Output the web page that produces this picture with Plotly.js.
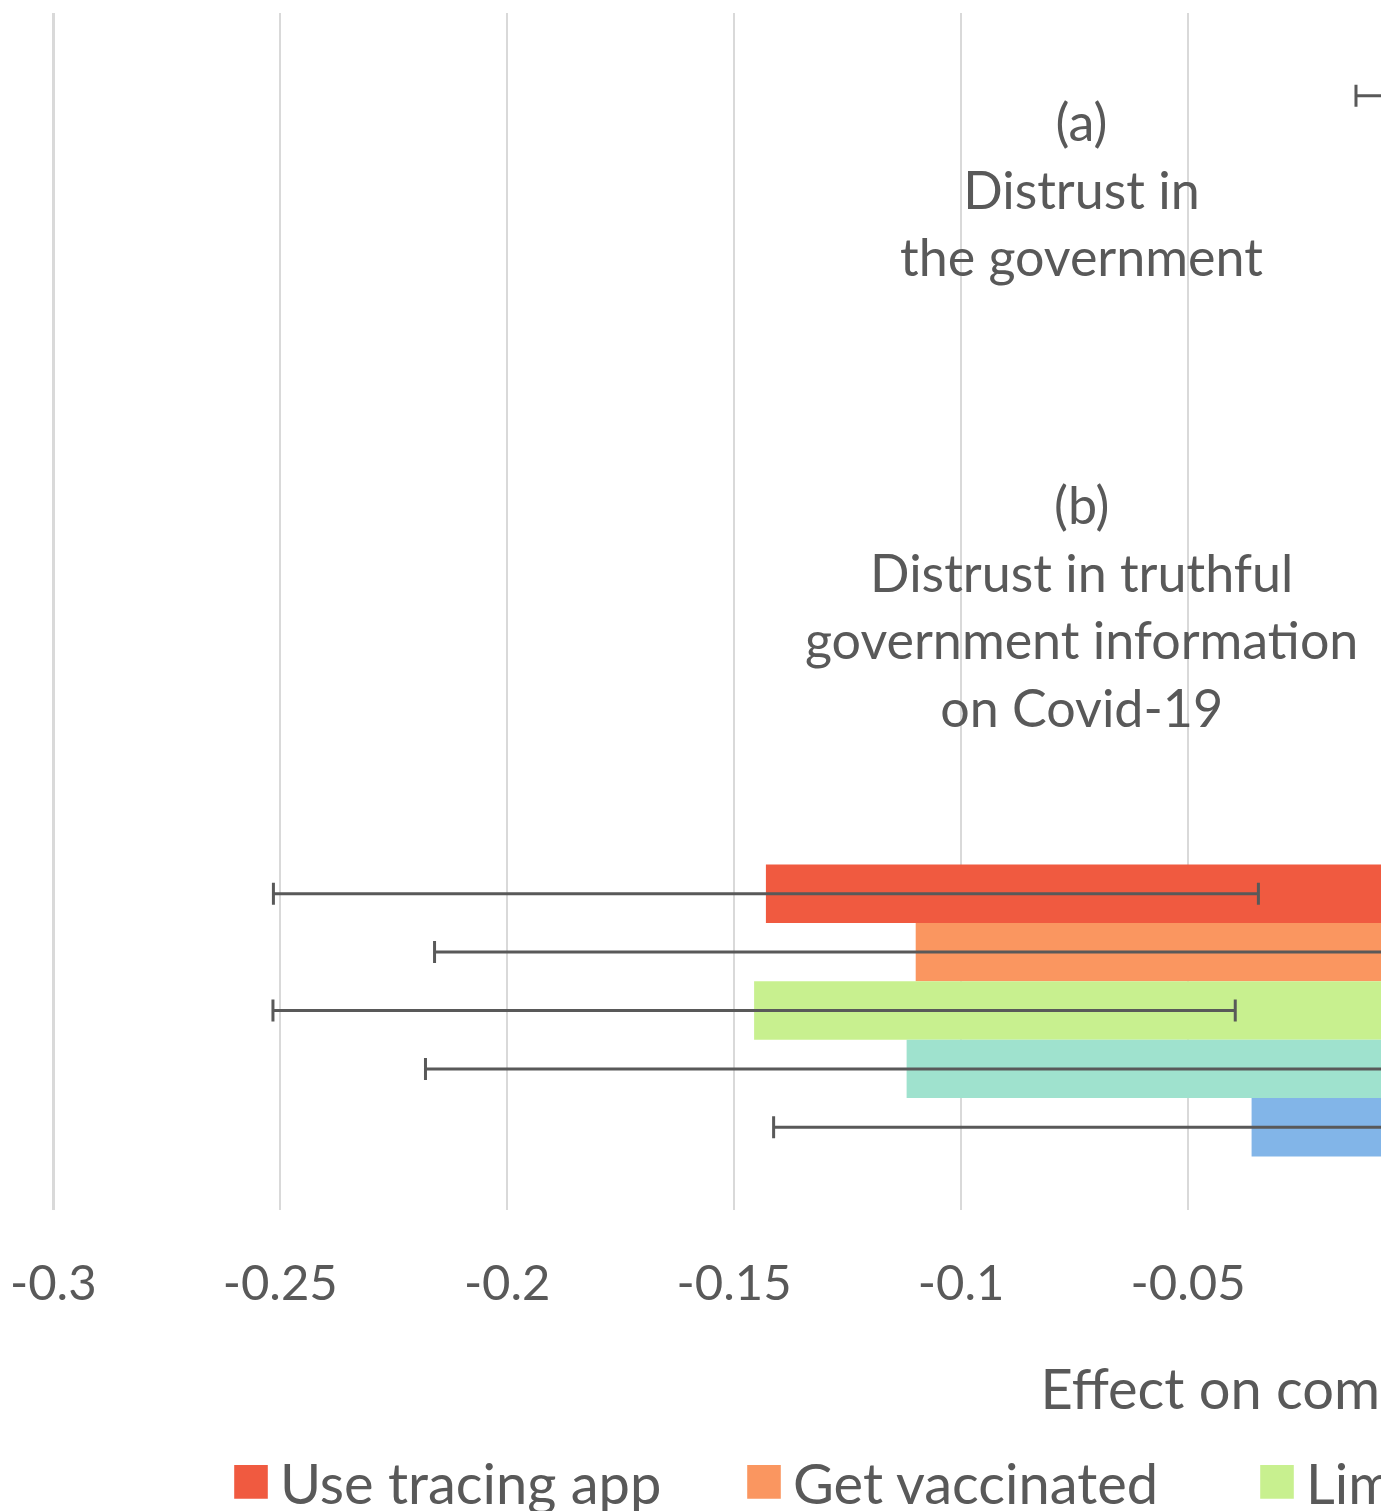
<!DOCTYPE html>
<html>
<head>
<meta charset="utf-8">
<script src="https://cdn.plot.ly/plotly-3.0.1.min.js"></script>
<style>
html, body { margin: 0; padding: 0; background: #ffffff; overflow: hidden; width: 1381px; height: 1511px; }
#chart { width: 3200px; height: 1560px; }
</style>
</head>
<body>
<div id="chart"></div>
<script>
// Categories (top to bottom)
const categories = ["(a)", "(b)", "(c)"];
const categoryLabels = ["(a)<br>Distrust in<br>the government", "(b)<br>Distrust in truthful<br>government information<br>on Covid-19", ""];

// Series names (legend)
const seriesNames = ["Use tracing app", "Get vaccinated", "Limit social contacts", "Keep distance", "Wear a face mask"];
const seriesColors = ["#F05A40", "#FA9660", "#C8F08F", "#9FE2CE", "#82B5E8"];

// Effect estimates per series for categories (a), (b), (c)
const useTracingApp   = [0.092, 0.130, -0.143];
const getVaccinated   = [0.110, 0.150, -0.110];
const limitContacts   = [0.125, 0.160, -0.1456];
const keepDistance    = [0.140, 0.170, -0.112];
const wearMask        = [0.120, 0.140, -0.036];

// Error-bar half widths (confidence intervals)
const errTracingApp   = [0.105, 0.105, 0.1085];
const errVaccinated   = [0.100, 0.100, 0.106];
const errContacts     = [0.105, 0.100, 0.106];
const errDistance     = [0.100, 0.100, 0.106];
const errMask         = [0.100, 0.100, 0.1053];

// X axis ticks
const tickVals   = [-0.3, -0.25, -0.2, -0.15, -0.1, -0.05, 0, 0.05, 0.1, 0.15, 0.2, 0.25, 0.3];
const tickLabels = ["-0.3", "-0.25", "-0.2", "-0.15", "-0.1", "-0.05", "0", "0.05", "0.1", "0.15", "0.2", "0.25", "0.3"];

const xTitle = "Effect on compliance intention";

const seriesValues = [useTracingApp, getVaccinated, limitContacts, keepDistance, wearMask];
const seriesErrors = [errTracingApp, errVaccinated, errContacts, errDistance, errMask];

const textColor = "#595959";
const fontFam = "Lato, 'Open Sans', sans-serif";

const traces = seriesNames.map((name, i) => ({
  type: "bar",
  orientation: "h",
  name: name,
  y: categories,
  x: seriesValues[i],
  marker: { color: seriesColors[i], line: { width: 0 } },
  error_x: { type: "data", array: seriesErrors[i], symmetric: true, color: "#595959", thickness: 3, width: 11 },
  hoverinfo: "none"
}));

const labelShift = [24, 6, 0];
const annotations = categoryLabels.map((t, i) => ({
  text: t,
  xref: "x", yref: "y",
  x: -0.0735, y: categories[i],
  xanchor: "center", yanchor: "middle",
  yshift: labelShift[i],
  align: "center",
  showarrow: false,
  font: { family: fontFam, size: 52, color: textColor }
})).filter(a => a.text !== "");

const layout = {
  width: 3200,
  height: 1560,
  margin: { l: 51, r: 421, t: 13, b: 350, pad: 0 },
  paper_bgcolor: "#ffffff",
  plot_bgcolor: "#ffffff",
  barmode: "group",
  bargap: 0.268,
  bargroupgap: 0,
  showlegend: true,
  font: { family: fontFam, color: textColor },
  xaxis: {
    range: [-0.3005, 0.3005],
    tickmode: "array",
    tickvals: tickVals,
    ticktext: tickLabels,
    ticks: "",
    ticklabelstandoff: 40,
    showgrid: true,
    gridcolor: "#D9D9D9",
    gridwidth: 2.5,
    zeroline: false,
    showline: false,
    tickfont: { family: fontFam, size: 49, color: textColor },
    title: { text: xTitle, standoff: 60, font: { family: fontFam, size: 56, color: textColor } },
    automargin: false,
    fixedrange: true
  },
  yaxis: {
    type: "category",
    categoryorder: "array",
    categoryarray: categories,
    autorange: "reversed",
    showticklabels: false,
    showgrid: false,
    zeroline: false,
    showline: false,
    ticks: "",
    automargin: false,
    fixedrange: true
  },
  legend: {
    orientation: "h",
    x: (228 - 51) / 2728,
    xanchor: "left",
    y: -(1482 - 1210) / 1197,
    yanchor: "middle",
    font: { family: fontFam, size: 56, color: textColor },
    itemwidth: 42,
    entrywidth: 456,
    bgcolor: "rgba(0,0,0,0)",
    borderwidth: 0
  },
  annotations: annotations
};

Plotly.newPlot("chart", traces, layout, { displayModeBar: false, staticPlot: true }).then(gd => {
  gd.querySelectorAll(".legend .legendpoints path").forEach(p => {
    p.setAttribute("transform", "translate(23,0) scale(2.8)");
  });
});
</script>
</body>
</html>
